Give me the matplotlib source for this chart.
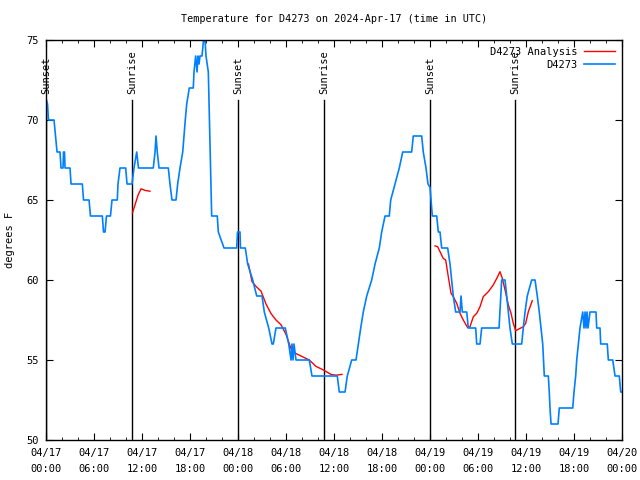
import numpy as np
import matplotlib
matplotlib.use('Agg')
import matplotlib.pyplot as plt

# hours since 2024-04-17 00:00 UTC
obs_hours = [0.06, 0.19, 0.31, 1.0, 1.19, 1.38, 1.75, 1.88, 2.13, 2.19, 2.31, 2.38, 3.0, 3.13,
             4.54, 4.69, 5.38, 5.56, 7.04, 7.19, 7.38, 7.56, 8.06, 8.25, 8.91, 9.0, 9.25, 9.96,
             10.13, 10.75, 11.0, 11.34, 11.56, 13.41, 13.63, 13.75, 13.91, 14.13, 15.29, 15.5,
             15.75, 16.25, 16.46, 16.75, 17.09, 17.25, 17.41, 17.59, 17.91, 18.41, 18.5, 18.71,
             18.88, 19.0, 19.13, 19.25, 19.5, 19.69, 19.88, 20.0, 20.29, 20.5, 20.71, 21.41,
             21.54, 22.25, 23.84, 23.94, 24.25, 24.31, 24.91, 25.21, 25.84, 26.34, 27.0, 27.29,
             27.84, 28.25, 28.41, 28.75, 29.91, 30.34, 30.63, 30.75, 30.88, 31.0, 31.25, 32.91,
             33.25, 36.41, 36.66, 37.38, 37.66, 38.21, 38.75, 39.04, 39.34, 39.66, 40.09, 40.71,
             41.13, 41.66, 41.96, 42.38, 42.91, 43.09, 43.63, 44.16, 44.59, 45.71, 45.91, 46.96,
             47.16, 47.5, 47.75, 48.0, 48.13, 48.29, 48.84, 49.04, 49.25, 49.46, 50.21, 50.5,
             50.71, 50.91, 51.21, 51.75, 51.88, 52.04, 52.59, 52.79, 53.71, 53.84, 54.25, 54.46,
             56.63, 56.96, 57.38, 57.59, 57.79, 58.0, 58.29, 59.46, 59.66, 59.88, 60.16, 60.71,
             61.13, 61.41, 61.66, 61.88, 62.09, 62.19, 62.29, 62.79, 62.91, 63.0, 63.13, 64.0,
             64.16, 65.84, 66.0, 66.21, 66.34, 66.54, 66.75, 67.09, 67.25, 67.38, 67.5, 67.63,
             67.75, 68.0, 68.75, 68.84, 69.25, 69.34, 70.16, 70.29, 70.84, 71.13, 71.66, 71.84,
             72.0]
obs_temp = [71.2, 71, 70, 70, 69, 68, 68, 67, 67, 68, 68, 67, 67, 66,
            66, 65, 65, 64, 64, 63, 63, 64, 64, 65, 65, 66, 67, 67,
            66, 66, 67, 68, 67, 67, 68, 69, 68, 67, 67, 66,
            65, 65, 66, 67, 68, 69, 70, 71, 72, 72, 73, 74,
            73, 74, 73.5, 74, 74, 75, 75, 74, 73, 68.5, 64, 64,
            63, 62, 62, 63, 63, 62, 62, 61, 60, 59, 59, 58,
            57, 56, 56, 57, 57, 56, 55, 56, 55, 56, 55, 55,
            54, 54, 53, 53, 54, 55, 55, 56, 57, 58, 59, 60,
            61, 62, 63, 64, 64, 65, 66, 67, 68, 68, 69, 69,
            68, 67, 66, 65.8, 65, 64, 64, 63, 63, 62, 62, 61,
            60, 59, 58, 58, 59, 58, 58, 57, 57, 56, 56, 57,
            57, 60, 60, 59, 58, 57, 56, 56, 57, 58, 59, 60,
            60, 59, 58, 57, 56, 55, 54, 54, 53, 52, 51, 51,
            52, 52, 53, 54, 55, 56, 57, 58, 57, 58, 57, 58,
            57, 58, 58, 57, 57, 56, 56, 55, 55, 54, 54, 53,
            53]

# analysis segments
ana1_hours = [10.81, 11.13, 11.5, 11.88, 12.38, 13.0]
ana1_temp = [64.2, 64.7, 65.3, 65.7, 65.6, 65.55]
ana2_hours = [25.31, 25.75, 26.25, 26.88, 27.5, 28.13, 28.75, 29.38, 30.0, 30.63, 31.25,
              31.88, 32.91, 33.75, 34.59, 35.63, 36.25, 37.0]
ana2_temp = [61.0, 59.9, 59.6, 59.3, 58.5, 57.9, 57.5, 57.2, 56.6, 55.7, 55.4,
             55.25, 55.0, 54.6, 54.4, 54.1, 54.05, 54.1]
ana3_hours = [48.63, 48.96, 49.25, 49.66, 49.96, 50.29, 50.63, 50.91, 51.34, 51.75, 52.16,
              52.71, 53.0, 53.41, 53.84, 54.25, 54.66, 55.29, 55.91, 56.34, 56.75, 57.04,
              57.38, 57.79, 58.13, 58.41, 58.71, 59.04, 59.66, 59.96, 60.29, 60.79]
ana3_temp = [62.13, 62.08, 61.77, 61.35, 61.25, 60.2, 59.17, 58.96, 58.54, 57.92, 57.5,
             57.02, 57.08, 57.7, 57.92, 58.33, 58.96, 59.27, 59.69, 60.1, 60.52, 60.1,
             59.38, 58.44, 57.92, 57.29, 56.83, 56.92, 57.08, 57.29, 58.02, 58.71]

sun_hours = [0.04, 10.78, 24.04, 34.78, 48.04, 58.66]
sun_names = ['Sunset', 'Sunrise', 'Sunset', 'Sunrise', 'Sunset', 'Sunrise']

tick_hours = list(range(0, 73, 6))
tick_labels = ['04/17\n00:00', '04/17\n06:00', '04/17\n12:00', '04/17\n18:00',
               '04/18\n00:00', '04/18\n06:00', '04/18\n12:00', '04/18\n18:00',
               '04/19\n00:00', '04/19\n06:00', '04/19\n12:00', '04/19\n18:00',
               '04/20\n00:00']

plt.rcParams['font.family'] = 'DejaVu Sans Mono'
plt.rcParams['font.size'] = 7.5

fig = plt.figure(figsize=(6.4, 4.8), dpi=100)
ax = fig.add_axes([46 / 640, 40 / 480, 576 / 640, 400 / 480])

for h, name in zip(sun_hours, sun_names):
    ax.plot([h, h], [50, 71.28], color='black', lw=1)
    ax.text(h, 71.6, name, rotation=90, ha='center', va='bottom', fontsize=7.5)

ana_sets = [(ana1_hours, ana1_temp), (ana2_hours, ana2_temp), (ana3_hours, ana3_temp)]
for i, (hh, tt) in enumerate(ana_sets):
    ax.plot(hh, tt, color='#ff0000', lw=1, label='D4273 Analysis' if i == 0 else None)
ax.plot(obs_hours, obs_temp, color='#0080ff', lw=1.2, label='D4273')

ax.set_xlim(0, 72)
ax.set_ylim(50, 75)
ax.set_xticks(tick_hours)
ax.set_xticklabels(tick_labels)
for lbl in ax.get_xticklabels():
    lbl.set_linespacing(1.75)
ax.set_xticks(range(0, 73, 2), minor=True)
ax.set_yticks(range(50, 76, 5))
ax.tick_params(which='both', direction='in', top=True, right=True)
ax.tick_params(axis='x', which='major', length=5, pad=6)
ax.tick_params(axis='y', which='major', length=5, pad=5)
ax.tick_params(which='minor', length=2.5)
for s in ax.spines.values():
    s.set_linewidth(1)

ax.set_ylabel('degrees F', labelpad=8)
ax.set_title('Temperature for D4273 on 2024-Apr-17 (time in UTC)', fontsize=7.3, pad=13)

ax.legend(loc='upper right', frameon=False, markerfirst=False, handlelength=3.0,
          labelspacing=0.3, borderaxespad=0.25, handletextpad=0.6, fontsize=7.5)

plt.savefig('out.png', dpi=100)
